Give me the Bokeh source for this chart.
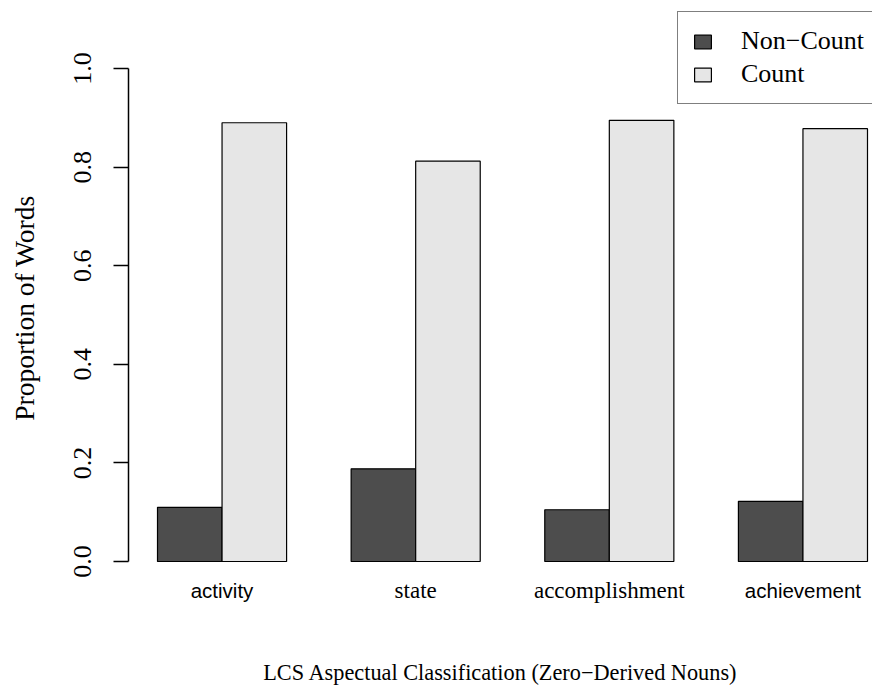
from bokeh.plotting import figure
from bokeh.models import Range1d, FixedTicker, LinearAxis, Legend, LegendItem, ColumnDataSource
from bokeh.core.properties import value
from bokeh.embed import file_html
from bokeh.resources import INLINE

# ---- data ----
categories = ["activity", "state", "accomplishment", "achievement"]
non_count = [0.110, 0.188, 0.105, 0.122]
count = [0.890, 0.812, 0.895, 0.878]
series_names = ["Non\u2212Count", "Count"]
y_ticks = [0.0, 0.2, 0.4, 0.6, 0.8, 1.0]
y_tick_labels = ["0.0", "0.2", "0.4", "0.6", "0.8", "1.0"]
x_title = "LCS Aspectual Classification (Zero\u2212Derived Nouns)"
y_title = "Proportion of Words"

# ---- layout (R barplot style: bar width 1, group space 1) ----
idx = list(range(len(categories)))
x_non = [1.5 + 3 * i for i in idx]
x_cnt = [2.5 + 3 * i for i in idx]
x_mid = [2.0 + 3 * i for i in idx]

SERIF = "Liberation Serif"
SANS = "Liberation Sans"

p = figure(width=872, height=687, output_backend="svg", toolbar_location=None,
           x_range=Range1d(0.5507, 12.0775), y_range=Range1d(-0.1095, 1.138),
           min_border_left=128, min_border_right=0, min_border_top=0, min_border_bottom=72,
           x_axis_location=None, y_axis_location=None)
p.grid.visible = False
p.outline_line_color = None
p.background_fill_color = "white"
p.border_fill_color = "white"

src_non = ColumnDataSource(dict(x=x_non, top=non_count))
src_cnt = ColumnDataSource(dict(x=x_cnt, top=count))
r1 = p.vbar(x="x", top="top", bottom=0, width=1.0, source=src_non,
            fill_color="#4d4d4d", line_color="black", line_width=1.2)
r2 = p.vbar(x="x", top="top", bottom=0, width=1.0, source=src_cnt,
            fill_color="#e6e6e6", line_color="black", line_width=1.2)

# y axis
yax = LinearAxis(ticker=FixedTicker(ticks=y_ticks), bounds=(0, 1))
yax.major_label_overrides = {t: l for t, l in zip(y_ticks, y_tick_labels)}
yax.major_label_orientation = "vertical"
yax.major_label_text_font = SERIF
yax.major_label_text_font_size = "26px"
yax.major_label_text_color = "black"
yax.major_label_standoff = 22
yax.major_tick_out = 15
yax.major_tick_in = 0
yax.minor_tick_out = 0
yax.minor_tick_in = 0
yax.axis_line_color = "black"
yax.axis_line_width = 1.5
yax.major_tick_line_color = "black"
yax.major_tick_line_width = 1.5
yax.axis_label = y_title
yax.axis_label_text_font = SERIF
yax.axis_label_text_font_size = "27.5px"
yax.axis_label_text_font_style = "normal"
yax.axis_label_text_color = "black"
yax.axis_label_standoff = 32
p.add_layout(yax, "left")

# x axis (title only)
xax = LinearAxis(ticker=FixedTicker(ticks=[]))
xax.axis_line_color = None
xax.major_tick_line_color = None
xax.minor_tick_line_color = None
xax.major_label_text_font_size = "0px"
xax.axis_label = x_title
xax.axis_label_text_font = SERIF
xax.axis_label_text_font_size = "22.3px"
xax.axis_label_text_font_style = "normal"
xax.axis_label_text_color = "black"
xax.axis_label_standoff = 44
p.add_layout(xax, "below")

# category labels (mixed fonts as in the reference)
sans_set = {"activity", "achievement"}
sans_idx = [i for i in idx if categories[i] in sans_set]
serif_idx = [i for i in idx if categories[i] not in sans_set]
lab_y = -0.058
p.text(x=[x_mid[i] for i in sans_idx], y=[lab_y] * len(sans_idx),
       text=[categories[i] for i in sans_idx], text_font=value(SANS),
       text_font_size="20.5px", text_align="center", text_baseline="middle", text_color="black")
p.text(x=[x_mid[i] for i in serif_idx], y=[lab_y] * len(serif_idx),
       text=[categories[i] for i in serif_idx], text_font=value(SERIF),
       text_font_size="23px", text_align="center", text_baseline="middle", text_color="black")

legend = Legend(items=[LegendItem(label=series_names[0], renderers=[r1]),
                       LegendItem(label=series_names[1], renderers=[r2])],
                location=(549, 511))
legend.border_line_color = "black"
legend.border_line_width = 1.5
legend.background_fill_color = "white"
legend.background_fill_alpha = 1.0
legend.label_text_font = SERIF
legend.label_text_font_size = "26px"
legend.label_text_color = "black"
legend.glyph_width = 21
legend.glyph_height = 17
legend.label_standoff = 28
legend.label_height = 29
legend.spacing = 3
legend.padding = 14
legend.margin = 0
p.add_layout(legend)

open("out.html", "w").write(file_html(p, INLINE))
